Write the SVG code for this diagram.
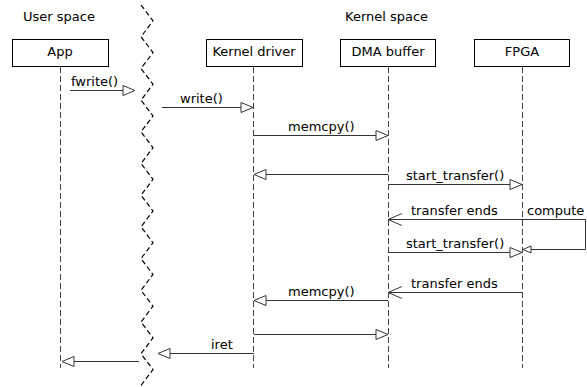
<svg xmlns="http://www.w3.org/2000/svg" width="587" height="387" viewBox="0 0 587 387">
  <defs>
    <style>
      text { font-family: "DejaVu Sans", "Liberation Sans", sans-serif; font-size: 13px; fill: #000; }
      .box { fill: #fff; stroke: #000; stroke-width: 1; }
      .life { stroke: #444; stroke-width: 1; stroke-dasharray: 6,3; fill: none; }
      .msg { stroke: #333; stroke-width: 1; fill: none; }
      .boundary { stroke: #000; stroke-width: 1.2; stroke-dasharray: 5,3; fill: none; }
      .c { text-anchor: middle; }
    </style>
    <!-- hollow triangle head for calls -->
    <marker id="tri" markerUnits="userSpaceOnUse" markerWidth="14" markerHeight="12" refX="13" refY="6" orient="auto" overflow="visible">
      <path d="M1,1 L13,6 L1,11 Z" fill="#fff" stroke="#333" stroke-width="1"/>
    </marker>
    <!-- small hollow triangle for the self call -->
    <marker id="tri-s" markerUnits="userSpaceOnUse" markerWidth="10" markerHeight="8" refX="9" refY="4" orient="auto" overflow="visible">
      <path d="M1,0.5 L9,4 L1,7.5 Z" fill="#fff" stroke="#333" stroke-width="1"/>
    </marker>
    <!-- open head for asynchronous signals -->
    <marker id="open" markerUnits="userSpaceOnUse" markerWidth="16" markerHeight="14" refX="15" refY="7" orient="auto" overflow="visible">
      <path d="M1,1 L15,7 L1,13" fill="none" stroke="#333" stroke-width="1"/>
    </marker>
  </defs>

  <rect width="587" height="387" fill="#fff"/>

  <!-- user / kernel boundary -->
  <g id="boundary">
    <text x="23" y="21">User space</text>
    <text x="345" y="21">Kernel space</text>
    <polyline class="boundary" points="141,5 153,20.85 141,36.7 153,52.55 141,68.4 153,84.25 141,100.1 153,115.95 141,131.8 153,147.65 141,163.5 153,179.35 141,195.2 153,211.05 141,226.9 153,242.75 141,258.6 153,274.45 141,290.3 153,306.15 141,322 153,337.85 141,353.7 153,369.55 141,385.4 145,390.7"/>
  </g>

  <!-- participants -->
  <g id="app">
    <rect class="box" x="12.5" y="39.5" width="96" height="27"/>
    <text class="c" x="60" y="56">App</text>
    <line class="life" x1="60.5" y1="67" x2="60.5" y2="368"/>
  </g>
  <g id="kernel-driver">
    <rect class="box" x="206.5" y="39.5" width="96" height="27"/>
    <text class="c" x="254" y="56">Kernel driver</text>
    <line class="life" x1="253.5" y1="67" x2="253.5" y2="368"/>
  </g>
  <g id="dma-buffer">
    <rect class="box" x="340.5" y="39.5" width="95" height="27"/>
    <text class="c" x="388" y="56">DMA buffer</text>
    <line class="life" x1="388.5" y1="67" x2="388.5" y2="368"/>
  </g>
  <g id="fpga">
    <rect class="box" x="474.5" y="39.5" width="95" height="27"/>
    <text class="c" x="522" y="56">FPGA</text>
    <line class="life" x1="522.5" y1="67" x2="522.5" y2="368"/>
  </g>

  <!-- messages -->
  <g id="connectors">
    <path class="msg" d="M70,90.5 H135" marker-end="url(#tri)"/>
    <path class="msg" d="M162,107.5 H253" marker-end="url(#tri)"/>
    <path class="msg" d="M254,135.5 H388" marker-end="url(#tri)"/>
    <path class="msg" d="M388,174.5 H254" marker-end="url(#tri)"/>
    <path class="msg" d="M388,184.5 H522" marker-end="url(#tri)"/>
    <path class="msg" d="M522,219.5 H388" marker-end="url(#open)"/>
    <path class="msg" d="M522,219.5 H585.5 V249.5 H523" marker-end="url(#tri-s)"/>
    <path class="msg" d="M388,252.5 H522" marker-end="url(#tri)"/>
    <path class="msg" d="M522,292.5 H388" marker-end="url(#open)"/>
    <path class="msg" d="M388,300.5 H254" marker-end="url(#tri)"/>
    <path class="msg" d="M254,334.5 H388" marker-end="url(#tri)"/>
    <path class="msg" d="M254,353.5 H158" marker-end="url(#tri)"/>
    <path class="msg" d="M139,361.5 H62" marker-end="url(#tri)"/>

    <text x="71" y="86">fwrite()</text>
    <text x="180" y="103">write()</text>
    <text x="288" y="131">memcpy()</text>
    <text x="406" y="180">start_transfer()</text>
    <text x="411" y="215">transfer ends</text>
    <text x="527" y="215">compute</text>
    <text x="406" y="248">start_transfer()</text>
    <text x="411" y="288">transfer ends</text>
    <text x="288" y="296">memcpy()</text>
    <text x="211" y="349">iret</text>
  </g>
</svg>
